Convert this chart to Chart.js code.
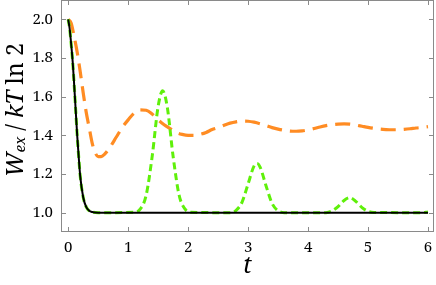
<!DOCTYPE html>
<html>
<head>
<meta charset="utf-8">
<script src="https://cdn.jsdelivr.net/npm/chart.js@4.4.1/dist/chart.umd.min.js"></script>
<style>
  body { margin: 0; background: #fff; }
</style>
</head>
<body>
<canvas id="chart" width="436" height="285"></canvas>
<script>
// tick labels
var xTicks = [0, 1, 2, 3, 4, 5, 6];
var yTicks = [1.0, 1.2, 1.4, 1.6, 1.8, 2.0];

// black solid curve
var blackT = [0, 0.025, 0.05, 0.075, 0.1, 0.125, 0.15, 0.175, 0.2, 0.25, 0.3, 0.35, 0.4, 0.5, 6.0];
var blackW = [2.0, 1.95, 1.87, 1.78, 1.66, 1.53, 1.40, 1.29, 1.19, 1.08, 1.03, 1.01, 1.003, 1.0, 1.0];

// green dashed curve
var greenT = [0, 0.025, 0.05, 0.075, 0.1, 0.125, 0.15, 0.175, 0.2, 0.25, 0.3, 0.35, 0.4, 0.5,
  1.1, 1.2, 1.3, 1.4, 1.5, 1.575, 1.65, 1.75, 1.85, 1.95, 2.05,
  2.7, 2.8, 2.9, 3.0, 3.1, 3.15, 3.2, 3.3, 3.4, 3.5, 3.6,
  4.3, 4.4, 4.5, 4.6, 4.7, 4.8, 4.9, 5.0, 5.1, 5.9, 6.0];
var greenW = [2.0, 1.95, 1.87, 1.78, 1.66, 1.53, 1.40, 1.29, 1.19, 1.08, 1.03, 1.01, 1.003, 1.0,
  1.002, 1.018, 1.09, 1.29, 1.55, 1.63, 1.55, 1.29, 1.09, 1.018, 1.002,
  1.0, 1.012, 1.055, 1.149, 1.242, 1.255, 1.236, 1.138, 1.048, 1.01, 1.0,
  1.0, 1.009, 1.031, 1.063, 1.078, 1.057, 1.026, 1.007, 1.001, 1.0, 1.004];

// orange long-dashed curve
var orangeT = [0, 0.05, 0.1, 0.15, 0.2, 0.25, 0.3, 0.35, 0.4, 0.45, 0.5, 0.55, 0.6, 0.7, 0.8, 0.9,
  1.0, 1.1, 1.2, 1.3, 1.4, 1.5, 1.6, 1.7, 1.8, 1.9, 2.0, 2.1, 2.2, 2.3, 2.4, 2.5, 2.6, 2.7, 2.8, 2.9,
  3.0, 3.1, 3.2, 3.3, 3.4, 3.5, 3.6, 3.7, 3.8, 3.9, 4.0, 4.1, 4.2, 4.3, 4.4, 4.5, 4.6, 4.7, 4.8, 4.9,
  5.0, 5.1, 5.2, 5.3, 5.4, 5.5, 5.6, 5.7, 5.8, 5.9, 6.0];
var orangeW = [2.0, 1.98, 1.91, 1.83, 1.73, 1.62, 1.52, 1.44, 1.36, 1.31, 1.29, 1.29, 1.30, 1.34, 1.39, 1.44,
  1.48, 1.515, 1.532, 1.53, 1.51, 1.48, 1.455, 1.435, 1.415, 1.405, 1.40, 1.40, 1.405, 1.415, 1.43, 1.44, 1.452, 1.463, 1.47, 1.474,
  1.473, 1.468, 1.46, 1.45, 1.44, 1.432, 1.426, 1.422, 1.421, 1.423, 1.428, 1.435, 1.443, 1.45, 1.455, 1.458, 1.459, 1.458, 1.453, 1.447,
  1.441, 1.436, 1.432, 1.43, 1.429, 1.429, 1.431, 1.434, 1.438, 1.441, 1.445];

function pts(t, w) {
  return t.map(function (v, i) { return { x: v, y: w[i] }; });
}

var FRAME = '#8a8a8a';
var SERIF = 'Noto Serif, DejaVu Serif, serif';

// frame, inward ticks, axis titles
var framePlugin = {
  id: 'frame',
  afterDraw: function (chart) {
    var ctx = chart.ctx;
    var a = chart.chartArea;
    var xs = chart.scales.x, ys = chart.scales.y;
    ctx.save();
    ctx.strokeStyle = FRAME;
    ctx.lineWidth = 1;
    ctx.strokeRect(a.left + 0.5, a.top + 0.5, a.right - a.left - 1, a.bottom - a.top - 1);
    ctx.beginPath();
    xTicks.forEach(function (t) {
      var px = Math.round(xs.getPixelForValue(t)) + 0.5;
      ctx.moveTo(px, a.bottom); ctx.lineTo(px, a.bottom - 5);
      ctx.moveTo(px, a.top); ctx.lineTo(px, a.top + 5);
    });
    yTicks.forEach(function (t) {
      var py = Math.round(ys.getPixelForValue(t)) + 0.5;
      ctx.moveTo(a.left, py); ctx.lineTo(a.left + 5, py);
      ctx.moveTo(a.right, py); ctx.lineTo(a.right - 5, py);
    });
    ctx.stroke();

    // x title
    ctx.fillStyle = '#000';
    ctx.font = 'italic 24px ' + SERIF;
    ctx.textAlign = 'center';
    ctx.textBaseline = 'middle';
    ctx.fillText('t', (a.left + a.right) / 2, 266);

    // y title: W_ex / kT ln 2, sized to span about 134px
    var size = 24;
    var parts = [
      { s: 'W', it: true, k: 1, dy: 0 },
      { s: 'ex', it: true, k: 0.65, dy: 0.22 },
      { s: ' / ', it: false, k: 1, dy: 0 },
      { s: 'kT', it: true, k: 1, dy: 0 },
      { s: ' ln 2', it: false, k: 1, dy: 0 }
    ];
    function fontOf(p, sz) { return (p.it ? 'italic ' : '') + (sz * p.k).toFixed(1) + 'px ' + SERIF; }
    function measure(sz) {
      var tot = 0;
      parts.forEach(function (p) { ctx.font = fontOf(p, sz); p.w = ctx.measureText(p.s).width; tot += p.w; });
      return tot;
    }
    size = size * 134 / measure(size);
    var total = measure(size);
    ctx.translate(16, 110);
    ctx.rotate(-Math.PI / 2);
    ctx.textAlign = 'left';
    ctx.textBaseline = 'middle';
    var x = -total / 2;
    parts.forEach(function (p) {
      ctx.font = fontOf(p, size);
      ctx.fillText(p.s, x, p.dy * size);
      x += p.w;
    });
    ctx.restore();
  }
};

var ctx = document.getElementById('chart').getContext('2d');
var myChart = new Chart(ctx, {
  type: 'line',
  data: {
    datasets: [
      {
        label: 'black',
        data: pts(blackT, blackW),
        borderColor: '#000',
        borderWidth: 2,
        order: 0
      },
      {
        label: 'green',
        data: pts(greenT, greenW),
        borderColor: 'rgb(95, 240, 10)',
        borderWidth: 3,
        borderDash: [7, 4],
        order: 1
      },
      {
        label: 'orange',
        data: pts(orangeT, orangeW),
        borderColor: 'rgb(255, 140, 35)',
        borderWidth: 3.2,
        borderDash: [15, 8],
        order: 2
      }
    ]
  },
  options: {
    responsive: false,
    animation: false,
    layout: { padding: { top: 0, right: 2, left: 0, bottom: 0 } },
    elements: {
      point: { radius: 0 },
      line: { cubicInterpolationMode: 'monotone', fill: false }
    },
    plugins: { legend: { display: false }, tooltip: { enabled: false } },
    scales: {
      x: {
        type: 'linear',
        min: -0.12,
        max: 6.1,
        afterBuildTicks: function (s) { s.ticks = xTicks.map(function (v) { return { value: v }; }); },
        afterFit: function (s) { s.height = 53; s.paddingLeft = 0; s.paddingRight = 0; },
        grid: { display: false, drawTicks: false },
        border: { display: false },
        ticks: {
          padding: 7,
          color: '#000',
          font: { family: SERIF, size: 15 },
          maxRotation: 0,
          callback: function (v) { return String(v); }
        }
      },
      y: {
        type: 'linear',
        min: 0.9,
        max: 2.1,
        afterBuildTicks: function (s) { s.ticks = yTicks.map(function (v) { return { value: v }; }); },
        afterFit: function (s) { s.width = 61; s.paddingTop = 0; s.paddingBottom = 0; },
        grid: { display: false, drawTicks: false },
        border: { display: false },
        ticks: {
          padding: 8,
          color: '#000',
          font: { family: SERIF, size: 15 },
          callback: function (v) { return v.toFixed(1); }
        }
      }
    }
  },
  plugins: [framePlugin]
});
</script>
</body>
</html>
